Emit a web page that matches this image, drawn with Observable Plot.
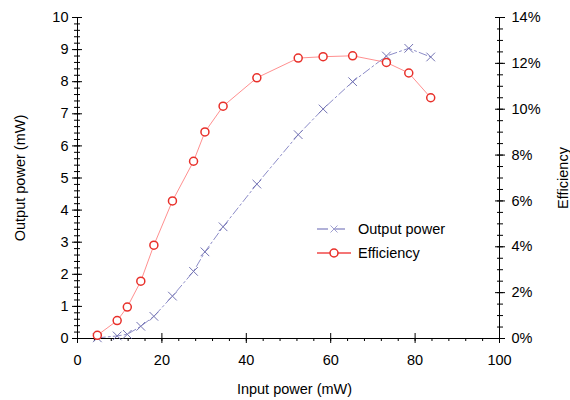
<!DOCTYPE html>
<html>
<head>
<meta charset="utf-8">
<script src="https://cdn.jsdelivr.net/npm/d3@7"></script>
<script src="https://cdn.jsdelivr.net/npm/@observablehq/plot@0.6"></script>
<style>
  body { margin: 0; background: #fff; }
  #wrap { position: relative; width: 570px; height: 400px; font-family: "Liberation Sans", Arial, sans-serif; }
  #legend { position: absolute; left: 0; top: 0; pointer-events: none; }
</style>
</head>
<body>
<div id="wrap"></div>
<script>
// Data
const inputPower = [4.7, 9.4, 11.8, 15.0, 18.1, 22.5, 27.5, 30.2, 34.5, 42.5, 52.3, 58.2, 65.2, 73.2, 78.5, 83.7];
const outputPower = [0.02, 0.08, 0.13, 0.38, 0.69, 1.32, 2.09, 2.70, 3.48, 4.81, 6.35, 7.15, 8.00, 8.80, 9.04, 8.77];
const efficiency = [0.14, 0.78, 1.37, 2.50, 4.07, 6.00, 7.73, 9.01, 10.13, 11.37, 12.23, 12.29, 12.33, 12.04, 11.58, 10.50];
const xTicks = [0, 20, 40, 60, 80, 100];
const yTicks = [0, 1, 2, 3, 4, 5, 6, 7, 8, 9, 10];
const effTicks = [0, 2, 4, 6, 8, 10, 12, 14];
const seriesNames = ["Output power", "Efficiency"];

const EFF_MAX = 14, Y_MAX = 10;
const effToY = e => e / EFF_MAX * Y_MAX;

const outData = inputPower.map((x, i) => ({x, y: outputPower[i]}));
const effData = inputPower.map((x, i) => ({x, y: effToY(efficiency[i])}));

const blueLine = "#8c8cc8", blueMark = "#7474b4";
const redLine = "#ff9090", redMark = "#e8302a";

const xMinor = d3.range(0, 100.01, 4);
const yMinor = d3.range(0, 10.001, 0.2);
const effMinor = d3.range(0, 14.001, 0.5).map(effToY);
const FS = 14.5;

const chart = Plot.plot({
  width: 570,
  height: 400,
  marginLeft: 77,
  marginRight: 71,
  marginTop: 17,
  marginBottom: 62,
  style: {fontFamily: "Liberation Sans, Arial, sans-serif", fontSize: FS + "px", color: "#000", background: "#fff"},
  x: {domain: [0, 100]},
  y: {domain: [0, 10]},
  marks: [
    // bottom axis
    Plot.axisX({ticks: xMinor, tickSize: 3, text: null, label: null}),
    Plot.axisX({ticks: xTicks, tickSize: 5, tickPadding: 11, label: "Input power (mW)", labelAnchor: "center", labelOffset: 55, labelArrow: "none", fontSize: FS, dx: 0}),
    Plot.axisX({ticks: xTicks, tickSize: -5, text: null, label: null}),
    // left axis
    Plot.axisY({ticks: yMinor, tickSize: 3, text: null, label: null}),
    Plot.axisY({ticks: yMinor, tickSize: -3, text: null, label: null}),
    Plot.axisY({ticks: yTicks, tickSize: 5, tickPadding: 4, label: "Output power (mW)", labelAnchor: "center", labelOffset: 63, labelArrow: "none", fontSize: FS}),
    Plot.axisY({ticks: yTicks, tickSize: -5, text: null, label: null}),
    // right axis
    Plot.axisY({anchor: "right", ticks: effMinor, tickSize: 3, text: null, label: null}),
    Plot.axisY({anchor: "right", ticks: effMinor, tickSize: -3, text: null, label: null}),
    Plot.axisY({anchor: "right", ticks: effTicks.map(effToY), tickSize: 5, tickPadding: 7,
      tickFormat: d => Math.round(d / Y_MAX * EFF_MAX) + "%",
      label: "Efficiency", labelAnchor: "center", labelOffset: 68, labelArrow: "none", fontSize: FS}),
    Plot.axisY({anchor: "right", ticks: effTicks.map(effToY), tickSize: -5, text: null, label: null}),
    Plot.ruleX([0], {stroke: "#000"}),
    Plot.ruleX([100], {stroke: "#000"}),
    Plot.ruleY([0], {stroke: "#000"}),
    // series
    Plot.line(outData, {x: "x", y: "y", stroke: blueLine, strokeWidth: 1, strokeDasharray: "8,3,2,3"}),
    Plot.dot(outData, {x: "x", y: "y", symbol: "times", r: 4, stroke: blueMark, strokeWidth: 1}),
    Plot.line(effData, {x: "x", y: "y", stroke: redLine, strokeWidth: 1}),
    Plot.dot(effData, {x: "x", y: "y", symbol: "circle", r: 4, stroke: redMark, fill: "#fff", strokeWidth: 1.5})
  ]
});

const wrap = document.getElementById("wrap");
wrap.appendChild(chart);

// Shift the x-axis title slightly right, as in the reference
d3.select(chart).selectAll("[aria-label='x-axis label'] text").attr("dx", 6);

// Legend overlay
const lg = d3.create("svg").attr("id", "legend").attr("width", 570).attr("height", 400);
const items = [
  {name: seriesNames[0], line: "#9898cc", sym: "times", dash: true},
  {name: seriesNames[1], line: "#f04848", sym: "circle", dash: false}
];
items.forEach((it, i) => {
  const cy = 229 + i * 24;
  const g = lg.append("g");
  const ln = g.append("line").attr("x1", 317).attr("x2", 351).attr("y1", cy).attr("y2", cy)
    .attr("stroke", it.line).attr("stroke-width", 1.5);
  if (it.dash) ln.attr("stroke-dasharray", "11,6");
  if (it.sym === "times") {
    g.append("path").attr("d", `M${334-3.5},${cy-3.5}L${334+3.5},${cy+3.5}M${334-3.5},${cy+3.5}L${334+3.5},${cy-3.5}`)
      .attr("stroke", "#a0a0d0").attr("stroke-width", 1);
  } else {
    g.append("circle").attr("cx", 334).attr("cy", cy).attr("r", 4).attr("fill", "#fff")
      .attr("stroke", redMark).attr("stroke-width", 1.5);
  }
  g.append("text").attr("x", 358).attr("y", cy).attr("dy", "0.35em")
    .attr("font-family", "Liberation Sans, Arial, sans-serif").attr("font-size", FS).text(it.name);
});
wrap.appendChild(lg.node());
</script>
</body>
</html>
